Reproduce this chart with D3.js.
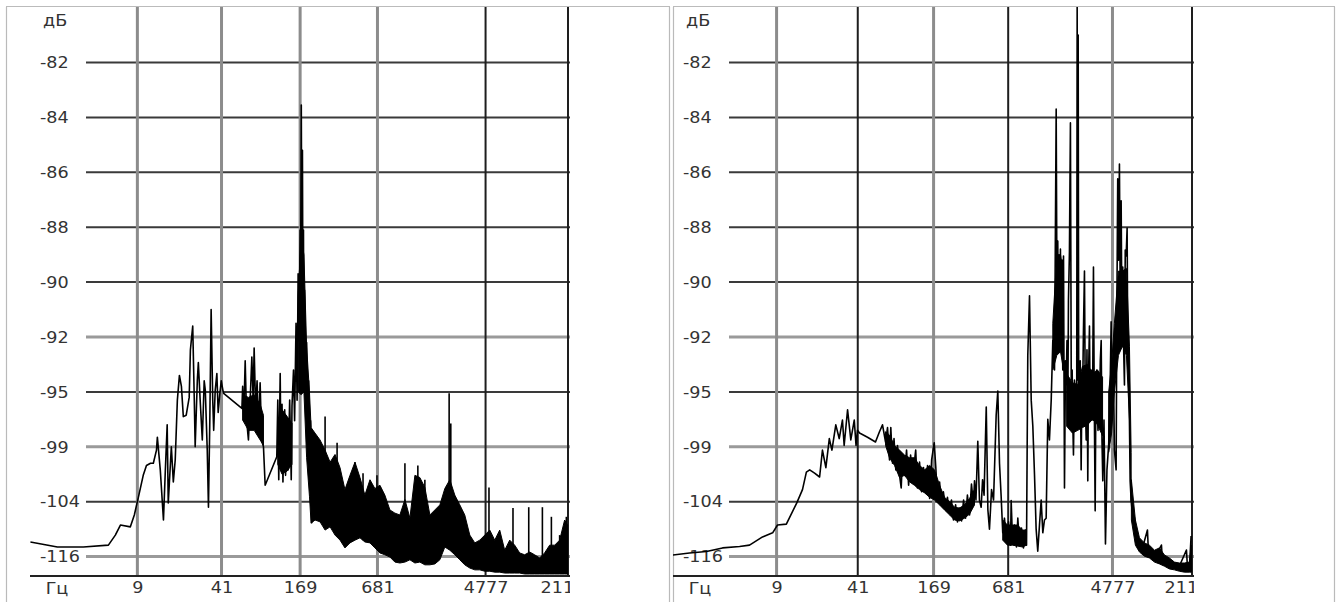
<!DOCTYPE html>
<html>
<head>
<meta charset="utf-8">
<script src="https://cdn.jsdelivr.net/npm/d3@7"></script>
<style>
    html, body { margin: 0; padding: 0; background: #fff; }
    svg { display: block; }
    text { font-family: "DejaVu Sans", sans-serif; font-size: 16px; fill: #333; }
</style>
</head>
<body>
<svg id="chart" width="1337" height="602"></svg>
<script>
// dB labels, top to bottom (evenly spaced on screen, values are not)
const yTicks = [-82, -84, -86, -88, -90, -92, -95, -99, -104, -116];
const xTicks = [9, 41, 169, 681, 4777, 21100];
const xTickLabels = ['9', '41', '169', '681', '4777', '21100'];

// left spectrum, thin part [Hz, dB]
const leftTrace = [
    [1.31,-112.8],[2.13,-113.9],[3.40,-113.9],[5.34,-113.5],[6.05,-111.3],[6.63,-109.1],[7.93,-109.5],
    [8.52,-106.9],[9.16,-103.6],[10.0,-101.6],[10.6,-100.7],[11.4,-100.5],[12.0,-100.5],[12.7,-99.3],
    [12.9,-98.3],[13.6,-101.1],[14.4,-108.0],[14.9,-101.1],[15.4,-97.4],[15.7,-104.3],[16.6,-99.0],
    [17.2,-102.2],[17.8,-100.2],[18.5,-95.6],[19.2,-94.1],[19.9,-94.7],[20.6,-96.8],[21.7,-96.7],
    [22.9,-95.4],[23.4,-92.7],[24.4,-91.6],[25.1,-95.6],[25.5,-99.0],[26.5,-94.4],[27.0,-93.4],
    [27.9,-95.6],[29.0,-98.5],[30.0,-94.4],[30.6,-94.9],[31.7,-99.3],[32.4,-105.2],[33.2,-97.1],
    [34.0,-91.0],[35.0,-95.6],[35.6,-97.8],[36.6,-94.9],[37.7,-94.0],[38.6,-96.5],[39.7,-95.2],
    [40.8,-94.4],[42.0,-94.9],[42.6,-95.1],[59.2,-96.2],[60.0,-94.7],[61.1,-97.1],[62.8,-93.3],
    [64.5,-97.1],[66.6,-98.5],[68.7,-95.6],[70.8,-93.1],[72.5,-95.6],[73.8,-92.6],[75.8,-96.3],
    [77.8,-94.4],[80.0,-97.8],[82.2,-94.5],[84.5,-98.5],[87.3,-99.0],[90.0,-102.5],[111,-99.9],
    [113,-95.6],[115,-102.0],[118,-94.0],[120,-101.1],[122,-95.9],[124,-102.2],[128,-96.3],
    [130,-101.6],[134,-97.1],[136,-101.1],[140,-95.6],[144,-102.0],[146,-96.0],[150,-93.8],
    [153,-97.1],[157,-91.5],[160,-95.6],[163,-89.7],[166,-92.2],[169,-88.1],[170,-91.3],
    [172.6,-83.55],[175,-91.75],[176.2,-85.2],[178,-92.2],[179.5,-88.1],[181,-93.3],[183,-90.3],
    [187,-95.6],[190,-92.3],[193,-97.1],[197,-94.4],[200,-102.0],[204,-97.1],[208,-108.7]
];
// left dense clusters [Hz, upper dB, lower dB]
const leftBandA = [[60,-95.2,-97.05],[66.6,-95.4,-97.8],[73.8,-95.2,-97.8],[82.2,-95.9,-98.5],[87.3,-96.7,-98.9]];
const leftBandB = [[113,-97.3,-100.6],[122,-96.3,-101.5],[134,-96.8,-101.2],[146,-97.3,-100.6]];
// left: main peak and noise floor above it [Hz, upper dB, lower dB]
const leftBody = [
    [163,-90.5,-95.0],[172,-88.4,-95.2],[181,-89.0,-95.0],[190,-92.5,-100.0],[200,-95.0,-103.5],
    [206,-97.6,-108.7],[221,-98.0,-108.0],[242,-98.5,-108.4],[265,-99.3,-110.2],[290,-100.4,-109.5],
    [317,-99.7,-111.3],[347,-100.9,-112.4],[379,-102.9,-114.1],[415,-101.6,-113.0],[454,-100.4,-112.4],
    [497,-101.8,-111.9],[543,-103.4,-112.8],[595,-102.0,-113.0],[650,-102.8,-114.1],[712,-102.5,-115.2],
    [778,-103.4,-115.6],[852,-105.8,-116.1],[933,-106.5,-117.2],[1020,-106.9,-117.4],[1117,-103.8,-117.2],
    [1222,-107.6,-116.7],[1337,-101.6,-117.4],[1462,-101.8,-117.2],[1600,-102.7,-117.8],[1751,-106.9,-117.8],
    [1916,-105.8,-117.6],[2096,-104.7,-116.7],[2293,-102.8,-113.9],[2509,-102.0,-114.6],[2744,-103.4,-115.6],
    [3003,-104.7,-116.7],[3283,-106.9,-117.8],[3595,-111.3,-118.5],[3936,-113.0,-118.9],[4303,-112.4,-118.9],
    [4710,-111.3,-119.2],[5152,-110.2,-119.2],[5636,-112.4,-119.4],[6166,-110.2,-119.4],[6745,-114.6,-119.6],
    [7382,-112.4,-119.6],[8075,-113.5,-119.6],[8836,-115.2,-119.6],[9660,-115.6,-119.8],[10578,-115.0,-119.8],
    [11560,-115.6,-119.8],[12660,-116.3,-119.8],[13840,-115.2,-119.8],[15160,-113.5,-119.8],[16600,-113.5,-119.8],
    [18150,-112.4,-119.8],[19860,-108.0,-119.8],[20950,-109.1,-119.8]
];
// left spectrum, single harmonics [Hz, top dB, bottom dB]
const leftSpikes = [
    [265,-96.8,-104],[329,-98.7,-108],[454,-100.4,-110.2],[525,-101.4,-112.4],[675,-101.6,-113.5],
    [1117,-100.5,-115.6],[1410,-100.7,-115.6],[1600,-102.0,-116.7],[2478,-95.1,-112.4],[2553,-97.3,-113.5],
    [5080,-102.7,-117.8],[7830,-105.4,-118.9],[10400,-105.2,-119.4],[13300,-105.2,-119.4],
    [15640,-107.3,-119.4],[18150,-111.3,-119.4],[20480,-107.3,-119.4]
];

// right spectrum [Hz, dB]
const rightTrace = [
    [1.29,-115.65],[1.77,-115.2],[2.43,-114.9],[3.28,-114.1],[4.51,-113.8],[5.43,-113.5],[6.92,-111.7],
    [8.36,-110.8],[9.16,-109.1],[10.8,-108.9],[13.1,-104.3],[14.6,-102.9],[15.7,-101.3],[16.7,-101.1],
    [18.3,-101.4],[20.1,-101.75],[21.2,-99.3],[22.6,-100.9],[24.1,-98.4],[25.3,-99.3],[27.2,-97.4],
    [29.0,-98.4],[30.8,-97.05],[31.8,-98.9],[33.9,-96.3],[36.0,-98.5],[38.4,-97.05],[39.7,-98.9],
    [40.8,-97.8],[42.4,-98.0],[49.2,-98.3],[57.1,-98.65],[61.5,-97.9],[65.1,-97.4],[68.9,-98.65],
    [71.5,-97.6],[74.2,-100.2],[76.0,-97.6],[78.5,-100.5],[80.7,-98.4],[83.5,-101.1],[86.1,-98.9],
    [89.5,-101.6],[92.3,-102.75],[94.6,-99.9],[98.2,-101.6],[102,-99.3],[106,-102.5],[110,-99.75],
    [114,-102.0],[121,-99.3],[125,-102.75],[130,-100.4],[135,-103.1],[140,-100.9],[146,-103.2],
    [151,-100.7],[157,-103.7],[163,-100.2],[171,-98.7],[176,-100.8],[182,-103.85],[189,-102.2],
    [196,-104.7],[203,-103.1],[212,-105.8],[219,-103.6],[226,-106.25],[236,-103.85],[245,-108.0],
    [255,-104.7],[264,-108.4],[274,-105.4],[285,-108.2],[296,-103.85],[307,-107.6],[318,-103.4],
    [331,-106.9],[343,-102.4],[356,-104.7],[363,-102.1],[373,-103.85],[386,-98.6],[398,-103.85],
    [411,-105.2],[422,-102.0],[434,-103.4],[452,-96.1],[466,-105.8],[480,-110.0],[499,-102.9],
    [518,-103.85],[544,-96.7],[561,-94.95],[579,-100.5],[597,-103.5],[615,-110.8],[635,-107.6],
    [659,-112.4],[685,-108.4],[711,-113.5],[720,-103.9],[738,-112.4],[766,-109.1],[795,-113.9],
    [815,-107.6],[841,-113.5],[873,-109.75],[906,-114.1],[940,-110.2],[959,-113.5],[982,-93.0],
    [1014,-90.5],[1047,-95.6],[1079,-97.5],[1113,-101.5],[1148,-110.0],[1183,-114.8],[1222,-109.1],
    [1261,-103.85],[1300,-110.8],[1341,-108.0],[1384,-107.6],[1427,-97.0],[1472,-98.5],[1521,-95.6],
    [1567,-92.2],[1618,-93.8],[1669,-83.7],[1694,-90.65],[1719,-88.5],[1742,-91.75],[1774,-91.45],
    [1807,-88.8],[1831,-92.7],[1860,-89.2],[1888,-93.8],[1914,-89.05],[1949,-102.75],[1986,-93.3],
    [2012,-94.6],[2042,-92.2],[2072,-97.05],[2099,-90.65],[2138,-88.9],[2178,-84.2],[2211,-94.35],
    [2249,-93.8],[2283,-97.8],[2305,-99.75],[2348,-94.35],[2393,-95.1],[2450,-95.6],[2470,-79.9],
    [2495,-94.35],[2517,-81.0],[2545,-97.05],[2578,-96.1],[2616,-93.3],[2661,-101.1],[2702,-94.35],
    [2742,-94.5],[2778,-91.75],[2831,-89.6],[2874,-95.6],[2924,-98.5],[2967,-92.7],[3012,-102.1],
    [3051,-94.35],[3108,-91.6],[3155,-97.05],[3208,-93.8],[3287,-97.05],[3349,-89.45],[3399,-95.6],
    [3457,-106.0],[3509,-94.35],[3562,-93.8],[3643,-97.8],[3748,-96.1],[3805,-93.3],[3869,-92.2],
    [3927,-98.5],[3986,-102.1],[4076,-97.05],[4191,-113.25],[4309,-101.1],[4453,-98.8],[4555,-95.6],
    [4659,-91.45],[4729,-97.05],[4863,-93.8],[4954,-99.3],[5113,-101.1],[5191,-90.65],[5269,-86.24],
    [5339,-89.2],[5440,-85.7],[5522,-90.65],[5617,-87.04],[5702,-91.75],[5788,-89.45],[5864,-92.16],
    [5975,-94.62],[6064,-88.83],[6166,-89.05],[6280,-88.03],[6350,-92.16],[6432,-93.04],[6556,-97.05],
    [6645,-102.1],[6770,-103.85],[6898,-106.0],[7200,-107.56],[7430,-112.37],[7907,-114.56],
    [8413,-113.9],[9180,-110.19],[9350,-115.0],[10800,-115.65],[11920,-113.47],[12140,-116.74],
    [13010,-117.18],[16680,-118.06],[19020,-114.56],[19380,-118.27],[20100,-118.49],[20750,-111.5]
];
// right dense clusters [Hz, upper dB, lower dB]
const rightBandA = [
    [68.9,-97.9,-98.9],[74.2,-98.15,-100.0],[81.5,-98.9,-100.7],[89.5,-99.3,-101.8],[98.2,-99.75,-101.6],
    [108,-100.0,-102.2],[118,-100.0,-102.5],[130,-100.7,-102.9],[143,-101.1,-103.2],[157,-100.7,-103.6],
    [172,-101.1,-103.85],[189,-102.5,-104.7],[207,-103.6,-105.8],[228,-104.0,-106.9],[250,-105.2,-108.0],
    [274,-105.4,-108.2],[301,-104.7,-107.6],[331,-103.7,-106.7],[363,-102.9,-104.7]
];
const rightBandB = [[615,-108.0,-112.4],[672,-109.1,-113.5],[738,-109.1,-113.5],[811,-109.1,-113.7],[889,-110.2,-113.9],[959,-110.2,-113.5]];
const rightBandC1 = [[1567,-91.5,-93.8],[1690,-89.0,-93.0],[1810,-89.0,-92.8],[1914,-89.8,-93.8]];
const rightBandC2 = [
    [2030,-94.0,-97.5],[2260,-94.5,-98.0],[2500,-94.6,-97.8],[2730,-93.6,-97.6],[3000,-93.5,-97.4],
    [3290,-94.0,-97.0],[3610,-93.8,-97.4],[3970,-94.2,-98.2]
];
const rightBandC3 = [
    [4450,-95.0,-99.5],[4700,-93.5,-98.0],[4950,-91.5,-95.0],[5340,-89.6,-93.0],[5760,-89.6,-92.5],
    [6200,-89.5,-93.0],[6560,-92.5,-97.0],[6770,-99.5,-104.0]
];
// right: roll-off above ~7 kHz
const rightBody = [
    [6800,-102.0,-108.0],[7330,-108.0,-113.5],[7907,-111.9,-115.0],[8675,-113.0,-115.9],
    [9526,-113.5,-116.3],[10470,-114.6,-117.2],[11480,-114.1,-117.6],[12610,-115.65,-118.1],
    [13840,-116.3,-118.7],[15190,-117.2,-118.9],[16680,-117.4,-119.2],[18320,-117.4,-119.4],
    [20100,-117.2,-119.4],[20890,-113.5,-119.4]
];
const rightSpikes = [];

let svg = d3.select('#chart');
svg.append('rect').attr('width', 1337).attr('height', 602).attr('fill', '#fff');

let spectrumPanel = function(opts) {
    let top = 7.6, step = 54.9;
    let g = svg.append('g');
    let x = d3.scaleLog().domain([1.3, 21100]).range([opts.x0, opts.x1]);
    let y = d3.scaleLinear()
        .domain([-80].concat(yTicks, [-120]))
        .range(d3.range(yTicks.length + 1).map(i => top + i * step)
            .concat([top + yTicks.length * step + step / 3]));
    let axisY = y(-120) + 1;

    // dotted frame
    g.append('rect')
        .attr('x', opts.bx0 + 0.5).attr('y', 6.5)
        .attr('width', opts.bx1 - opts.bx0).attr('height', 620)
        .attr('fill', 'none').attr('stroke', '#777')
        .attr('stroke-width', 1.2).attr('stroke-dasharray', '1,1');

    let clipId = 'clip' + opts.id;
    g.append('clipPath').attr('id', clipId)
        .append('rect')
        .attr('x', opts.x0).attr('y', 7)
        .attr('width', opts.x1 + 2 - opts.x0).attr('height', axisY - 7);

    // grid
    g.append('g').selectAll('line').data(yTicks).join('line')
        .attr('x1', opts.x0 + 56).attr('x2', opts.x1 + 2)
        .attr('y1', d => y(d)).attr('y2', d => y(d))
        .attr('stroke', d => opts.hGray.includes(d) ? '#9a9a9a' : '#3a3a3a')
        .attr('stroke-width', d => opts.hGray.includes(d) ? 3 : 2);
    g.append('g').selectAll('line').data(xTicks).join('line')
        .attr('x1', d => x(d)).attr('x2', d => x(d))
        .attr('y1', 7).attr('y2', axisY)
        .attr('stroke', d => opts.vGray.includes(d) ? '#8c8c8c' : '#1e1e1e')
        .attr('stroke-width', d => opts.vGray.includes(d) ? 3 : 2);

    // y labels
    g.append('g').selectAll('g').data(yTicks).join('g')
        .attr('transform', d => 'translate(' + (opts.x0 + 10) + ',' + y(d) + ')')
        .append('text')
        .attr('dy', '0.36em')
        .attr('transform', 'scale(1.1,1)')
        .text(d => d);
    g.append('text')
        .attr('transform', 'translate(' + (opts.x0 + 13) + ',26) scale(1.1,1)')
        .text('дБ');

    // data
    let plot = g.append('g').attr('clip-path', 'url(#' + clipId + ')');
    let band = d3.area().x(d => x(d[0])).y0(d => y(d[2])).y1(d => y(d[1]));
    plot.append('g').selectAll('path').data(opts.bands).join('path')
        .attr('d', band)
        .attr('fill', '#000').attr('stroke', '#000').attr('stroke-width', 1);
    plot.append('path')
        .datum(opts.trace)
        .attr('d', d3.line().x(d => x(d[0])).y(d => y(d[1])))
        .attr('fill', 'none').attr('stroke', '#000')
        .attr('stroke-width', 1.6).attr('stroke-linejoin', 'round');
    plot.append('g').selectAll('line').data(opts.spikes).join('line')
        .attr('x1', d => x(d[0])).attr('x2', d => x(d[0]))
        .attr('y1', d => y(d[1])).attr('y2', d => y(d[2]))
        .attr('stroke', '#000').attr('stroke-width', 1.6);

    // x axis
    let labelClip = 'lclip' + opts.id;
    g.append('clipPath').attr('id', labelClip)
        .append('rect')
        .attr('x', opts.bx0).attr('y', 0)
        .attr('width', opts.x1 + 2 - opts.bx0).attr('height', 602);
    let ax = g.append('g')
        .attr('transform', 'translate(0,' + axisY + ')')
        .attr('clip-path', 'url(#' + labelClip + ')')
        .call(d3.axisBottom(x).tickValues(xTicks)
            .tickFormat((d, i) => xTickLabels[i]).tickSize(0).tickPadding(6));
    ax.select('.domain').remove();
    ax.selectAll('text')
        .attr('font-family', null).attr('font-size', null)
        .attr('fill', '#333').attr('transform', 'scale(1.1,1)');
    g.append('line')
        .attr('x1', opts.x0).attr('x2', opts.x1 + 2)
        .attr('y1', axisY).attr('y2', axisY)
        .attr('stroke', '#222').attr('stroke-width', 2);
    g.append('text')
        .attr('transform', 'translate(' + (opts.x0 + 27) + ',' + (axisY + 18) + ') scale(1.1,1)')
        .attr('text-anchor', 'middle')
        .text('Гц');
};

spectrumPanel({
    id: 'L', bx0: 6, bx1: 669, x0: 30, x1: 568,
    vGray: [9, 41, 169, 681], hGray: [-92, -99, -116],
    trace: leftTrace, bands: [leftBandA, leftBandB, leftBody], spikes: leftSpikes
});
spectrumPanel({
    id: 'R', bx0: 673, bx1: 1334, x0: 673, x1: 1192,
    vGray: [9, 169, 4777], hGray: [-92, -99, -116],
    trace: rightTrace, bands: [rightBandA, rightBandB, rightBandC1, rightBandC2, rightBandC3, rightBody],
    spikes: rightSpikes
});
</script>
</body>
</html>
